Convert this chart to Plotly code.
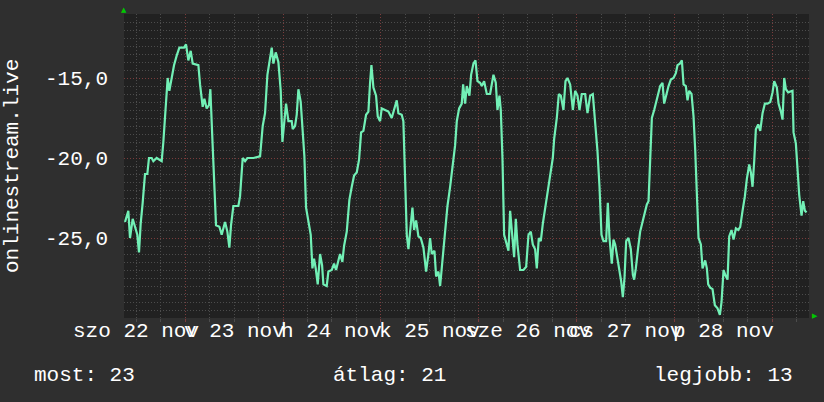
import pandas as pd
import plotly.graph_objects as go

# idősor: órák a kezdettől (2025-11-22 09:00), helyezés negatívan (felül a jobb)
START = pd.Timestamp("2025-11-22 09:00")
END = pd.Timestamp("2025-11-29 09:00")

hours = [
    0.25, 1.06, 1.47, 2.13, 2.70, 3.27, 3.68, 4.09, 4.58, 5.15, 5.72, 6.13, 6.79, 7.20,
    8.01, 9.24, 9.65, 10.22, 10.71, 11.12, 11.69, 12.27, 12.92, 13.58, 14.72, 15.21,
    15.78, 16.36, 16.85, 18.24, 18.65, 19.30, 19.71, 20.28, 20.85, 21.18, 21.59, 22.16,
    22.57, 23.39, 23.96, 24.78, 25.35, 25.84, 26.25, 26.82, 28.05, 28.46, 29.11, 29.69,
    30.26, 31.73, 33.37, 34.02, 34.59, 35.17, 35.66, 36.23, 36.64, 37.21, 37.86, 38.44,
    38.85, 39.34, 39.74, 40.32, 41.13,
    41.38, 41.95, 42.36, 42.77, 43.34, 43.83, 44.24, 44.65, 45.22, 45.80, 46.21, 46.61,
    47.02, 47.51, 48.09, 48.58, 48.90, 49.72, 50.13, 50.95, 51.52, 52.01, 52.58, 52.99,
    53.56, 53.97, 54.63, 55.28, 55.86, 56.43, 57.08, 57.65, 58.15, 58.72, 59.37, 59.94,
    60.35, 60.68, 61.17, 61.82, 62.23, 62.81, 63.21, 64.03, 64.84, 65.66, 66.23, 66.89,
    67.30, 68.11, 68.52, 68.94, 69.35, 69.76, 70.33, 70.74, 71.15, 71.64, 72.21, 72.78,
    73.44, 74.09, 74.66, 75.07, 75.48, 76.14, 76.55, 77.12, 77.53, 78.10, 78.75, 79.33,
    79.98, 80.63, 81.21, 81.62, 82.19, 82.84, 83.17, 83.66,
    84.07, 84.72, 85.13, 85.70, 86.20, 86.69, 87.34, 87.75, 88.32, 88.98, 89.79, 90.61,
    91.18, 91.59, 92.08, 92.41, 92.82, 93.23, 93.88, 94.29, 94.70, 95.11, 95.35, 95.68,
    96.09, 96.50, 97.15, 97.97, 98.63, 99.20, 99.77, 100.26, 100.83, 101.24, 101.73,
    102.22, 102.72, 103.29, 103.86, 104.51, 105.17, 105.50, 106.15, 106.64, 107.13,
    107.78, 108.28, 108.77, 109.42, 110.08, 110.65, 111.22, 111.71, 112.28, 113.10,
    113.67, 114.33, 114.98, 115.55, 116.13, 116.62, 117.11, 117.60, 118.25, 118.66,
    119.07, 119.64, 120.05, 120.46, 120.87, 121.52, 121.93, 122.34, 122.75, 123.16,
    123.73, 124.30, 124.80, 125.12,
    125.53, 126.10, 126.59, 127.17, 127.74, 128.23, 128.64, 129.05, 129.46, 130.03,
    130.44, 131.01, 131.50, 132.07, 132.48, 133.05, 133.55, 134.12, 134.77, 135.34,
    135.75, 136.33, 136.82, 137.23, 137.80, 138.21, 138.62, 139.19, 139.68, 140.09,
    140.50, 140.91, 141.48, 141.89, 142.54, 142.95, 143.28, 143.77, 144.34, 144.91,
    145.57, 146.14, 146.55, 147.04, 147.61, 148.02, 148.43, 149.00, 149.49, 150.07,
    150.64, 151.13, 151.70, 152.27, 152.76, 153.34, 153.75, 154.15, 154.56, 154.97,
    155.54, 156.04, 156.61, 157.18, 157.83, 158.49, 159.06, 159.47, 160.12, 160.53,
    161.10, 161.51, 161.92, 162.33, 162.90, 163.96, 164.21, 164.78, 165.19, 165.60,
    166.17, 166.58, 166.99, 167.40,
]
rank = [
    -24.0, -23.3, -25.0, -23.8, -24.3, -24.8, -25.9, -24.1, -22.8, -21.0, -21.0, -20.0, -20.0, -20.2,
    -20.0, -20.2, -19.0, -16.6, -15.0, -15.8, -15.0, -14.2, -13.6, -13.1, -13.1, -12.9,
    -13.9, -13.3, -14.1, -14.2, -15.4, -16.8, -16.3, -16.9, -16.7, -15.7, -18.3, -22.0,
    -24.2, -24.3, -24.8, -24.0, -24.6, -25.6, -24.2, -23.0, -23.0, -22.4, -20.0, -20.2,
    -20.0, -20.0, -19.9, -18.0, -17.2, -14.8, -14.0, -13.1, -14.1, -13.4, -14.0, -15.8,
    -19.0, -17.9, -16.6, -17.7, -17.7,
    -18.2, -18.0, -17.3, -15.7, -16.5, -18.6, -19.9, -23.1, -24.1, -24.8, -26.9, -26.3,
    -26.9, -27.9, -26.0, -26.7, -27.9, -28.0, -27.1, -27.0, -26.6, -27.0, -26.4, -26.0,
    -26.5, -25.5, -24.6, -22.6, -21.8, -21.1, -20.9, -20.1, -18.4, -18.3, -17.3, -17.1,
    -15.3, -14.2, -15.6, -16.1, -17.4, -17.7, -16.9, -17.0, -17.1, -17.5, -17.0, -16.4,
    -17.2, -17.3, -17.7, -21.0, -24.8, -25.7, -24.4, -23.1, -24.5, -23.9, -24.9, -25.0,
    -25.6, -27.1, -26.0, -25.0, -26.0, -25.8, -27.4, -27.1, -28.0, -26.3, -24.7, -23.0,
    -21.8, -20.2, -19.2, -17.7, -16.9, -16.6, -15.4, -16.6,
    -15.5, -16.1, -14.8, -14.1, -13.9, -15.2, -15.3, -15.5, -15.2, -16.0, -16.0, -14.8,
    -15.3, -17.0, -16.1, -17.0, -20.0, -24.8, -25.4, -25.8, -23.3, -24.4, -25.4, -26.2,
    -23.8, -25.4, -27.0, -27.0, -26.8, -24.8, -24.6, -25.4, -25.7, -26.9, -25.0,
    -25.2, -24.1, -23.1, -22.1, -21.0, -20.0, -18.8, -17.5, -16.0, -16.1,
    -17.0, -15.2, -15.0, -15.4, -17.0, -15.8, -16.1, -17.0, -16.0, -16.0,
    -17.2, -16.1, -16.0, -17.6, -19.6, -21.8, -24.8, -25.2, -25.2, -22.8,
    -25.0, -26.6, -25.1, -25.4, -26.0, -27.0, -27.7, -28.7, -27.5, -25.2,
    -25.0, -25.7, -27.3, -27.6,
    -26.9, -25.6, -24.6, -24.0, -23.4, -22.9, -22.7, -20.0, -17.5, -17.0,
    -16.5, -16.0, -15.5, -15.3, -16.6, -16.0, -15.5, -15.1, -15.0, -14.7,
    -14.2, -14.1, -13.9, -15.4, -15.5, -16.4, -15.8, -16.0, -17.4, -19.5,
    -22.1, -25.0, -25.4, -26.9, -26.4, -26.9, -27.9, -28.1, -28.2, -29.2,
    -29.4, -29.8, -29.0, -27.0, -27.4, -27.6, -24.9, -24.5, -25.1, -24.4,
    -24.5, -24.3, -23.3, -22.4, -21.3, -20.4, -20.9, -21.8, -20.2, -18.2,
    -17.9, -18.3, -17.2, -16.6, -16.6, -16.5, -15.9, -15.2, -15.6, -16.6,
    -17.1, -17.6, -15.0, -15.7, -15.9, -15.8, -18.4, -19.1, -20.7, -22.3,
    -23.6, -22.7, -23.3, -23.4,
]

day_labels = ["szo 22 nov", "v 23 nov", "h 24 nov", "k 25 nov", "sze 26 nov", "cs 27 nov", "p 28 nov"]
label_days = pd.date_range("2025-11-22", periods=7, freq="D")
midnights = pd.date_range("2025-11-23", periods=7, freq="D")
y_tickvals = [-15, -20, -25]
y_ticktext = ["-15,0", "-20,0", "-25,0"]
stats = ["most: 23", "átlag: 21", "legjobb: 13"]

FONT = "Liberation Mono"
BG = "#2f2f2f"
PLOT_BG = "#212121"
MAJOR = "#7a3c3c"
MINOR = "#4c4c4c"

times = START + pd.to_timedelta(hours, unit="h")

fig = go.Figure(go.Scatter(
    x=times, y=rank, mode="lines",
    line=dict(color="#72f0b6", width=2.2),
    hoverinfo="skip",
))

fig.update_layout(
    width=824, height=402,
    margin=dict(l=124, r=15, t=14, b=84),
    paper_bgcolor=BG, plot_bgcolor=PLOT_BG,
    showlegend=False,
    font=dict(family=FONT, size=21, color="#ffffff"),
    xaxis=dict(
        type="date", range=[START, END],
        tickvals=midnights, showticklabels=False,
        ticks="outside", ticklen=3, tickcolor=MAJOR,
        showgrid=True, gridcolor=MAJOR, griddash="1px,2px", gridwidth=1,
        zeroline=False, showline=False,
        minor=dict(dtick=6 * 3600 * 1000, tick0="2025-11-22 00:00",
                   showgrid=True, gridcolor=MINOR, griddash="1px,2px",
                   ticks="outside", ticklen=3, tickcolor=MINOR),
    ),
    yaxis=dict(
        range=[-30, -11],
        tickvals=y_tickvals, ticktext=y_ticktext,
        ticks="", ticklabelstandoff=15,
        showgrid=True, gridcolor=MAJOR, griddash="1px,2px", gridwidth=1,
        zeroline=False, showline=False,
        minor=dict(dtick=0.5, showgrid=True, gridcolor=MINOR, griddash="1px,2px"),
    ),
)

# napcímkék délben, egymásra csúszva mint az eredetin
for day, label in zip(label_days, day_labels):
    fig.add_annotation(
        x=day + pd.Timedelta(hours=12), xref="x", y=-0.046, yref="paper",
        text=label, showarrow=False, xanchor="center", yanchor="middle",
        font=dict(family=FONT, size=21, color="#ffffff"),
    )

# y tengely címe
fig.add_annotation(
    x=-0.1635, xref="paper", y=0.5, yref="paper",
    text="onlinestream.live", textangle=-90, showarrow=False,
    xanchor="center", yanchor="middle",
    font=dict(family=FONT, size=21, color="#ffffff"),
)

# összesítő sor
for text, xpos, anchor in zip(stats, [-0.135, 0.302, 0.98], ["left", "left", "right"]):
    fig.add_annotation(
        x=xpos, xref="paper", y=-0.19, yref="paper",
        text=text, showarrow=False, xanchor=anchor, yanchor="middle",
        font=dict(family=FONT, size=21, color="#ffffff"),
    )

# zöld nyilak a tengelyvégeken
fig.add_annotation(x=0, xref="paper", y=1, yref="paper", text="▲", showarrow=False,
                   xanchor="center", yanchor="bottom", yshift=-2,
                   font=dict(family="DejaVu Sans", size=7, color="#00c800"))
fig.add_annotation(x=1, xref="paper", y=0, yref="paper", text="▶", showarrow=False,
                   xanchor="left", yanchor="middle", xshift=1, yshift=2,
                   font=dict(family="DejaVu Sans", size=7, color="#00c800"))

fig.write_html(
    "out.html",
    config={"displayModeBar": False},
    post_script="document.body.style.margin='0';document.body.style.background='%s';" % BG,
)
